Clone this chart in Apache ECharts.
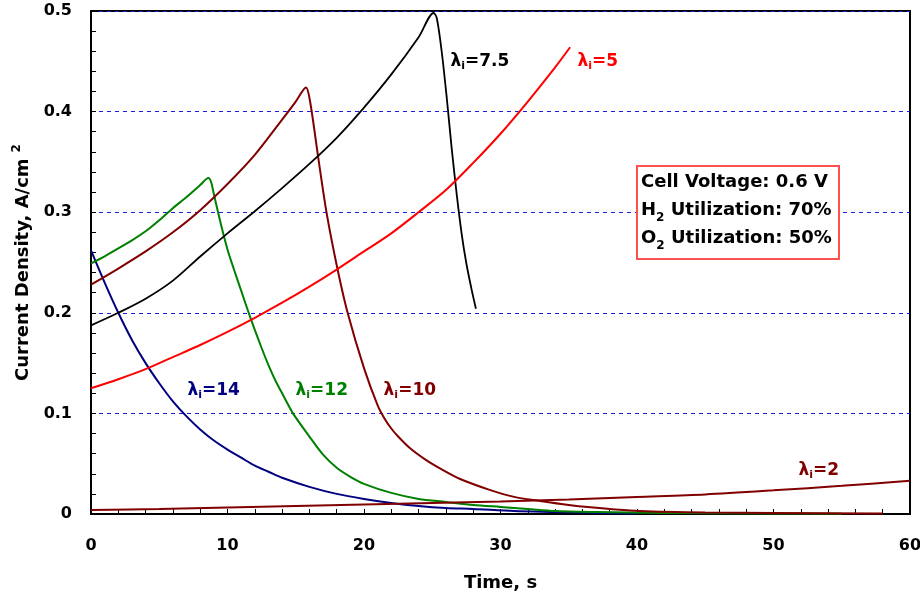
<!DOCTYPE html>
<html>
<head>
<meta charset="utf-8">
<script src="https://cdn.jsdelivr.net/npm/echarts@6/dist/echarts.min.js"></script>
<style>html,body{margin:0;padding:0;background:#fff}#c{width:920px;height:591px}</style>
</head>
<body>
<div id="c"></div>
<script>
// ---- data (time s, current density A/cm2) ----
const lambda14 = [[0,0.262],[1,0.23],[2,0.2],[3,0.173],[4,0.15],[5,0.13],[6,0.112],[7,0.097],[8,0.084],[9,0.073],[10,0.064],[11,0.056],[12,0.048],[13,0.042],[14,0.036],[16,0.027],[18,0.02],[20,0.015],[22,0.011],[24,0.008],[26,0.006],[28,0.005],[31,0.003],[34,0.002],[37,0.001],[40,0.0005]];
const lambda12 = [[0,0.249],[1,0.256],[2,0.264],[3,0.272],[4,0.281],[5,0.292],[6,0.304],[7,0.315],[8,0.327],[8.6,0.334],[8.8,0.33],[9,0.318],[9.5,0.289],[10,0.263],[10.5,0.242],[11,0.222],[11.5,0.202],[12,0.183],[12.5,0.165],[13,0.148],[13.5,0.133],[14,0.12],[14.8,0.1],[16,0.077],[17,0.059],[18,0.046],[19,0.037],[20,0.03],[22,0.021],[24,0.015],[26,0.012],[28,0.009],[30,0.007],[32,0.005],[34,0.003],[37,0.002],[42,0.001],[50,0.0005],[55,0.0003]];
const lambda10 = [[0,0.228],[2,0.244],[4,0.261],[6,0.28],[8,0.302],[10,0.328],[12,0.357],[14,0.392],[15,0.41],[15.75,0.424],[16.05,0.41],[16.65,0.354],[17.25,0.3],[18.05,0.244],[18.8,0.2],[20,0.145],[21,0.108],[21.5,0.095],[22,0.085],[22.5,0.077],[23.4,0.065],[24.5,0.054],[25.6,0.045],[27,0.035],[29.2,0.024],[31,0.017],[32.9,0.013],[35,0.009],[36.6,0.0066],[38,0.005],[40.2,0.003],[45,0.0015],[50,0.001],[58,0.0005]];
const lambda75 = [[0,0.1875],[2,0.2],[4,0.214],[6,0.232],[8,0.256],[10,0.279],[12,0.301],[14,0.324],[16,0.348],[18,0.374],[20,0.404],[22,0.437],[24,0.474],[25.1,0.498],[25.33,0.493],[25.69,0.46],[26.06,0.414],[26.42,0.364],[26.79,0.318],[27.16,0.278],[27.5,0.249],[27.9,0.222],[28.2,0.204]];
const lambda5 = [[0,0.125],[2,0.134],[4,0.144],[6,0.156],[8,0.168],[10,0.181],[12,0.195],[14,0.21],[16,0.226],[18,0.243],[20,0.261],[22,0.279],[24,0.3],[26,0.322],[28,0.349],[30,0.378],[32,0.41],[34,0.444],[35.1,0.464]];
const lambda2 = [[0,0.004],[5,0.005],[10,0.0065],[15,0.008],[20,0.0095],[25,0.011],[30,0.0125],[35,0.0145],[40,0.017],[45,0.0195],[50,0.0235],[55,0.028],[60,0.033]];
const seriesNames = ['14','12','10','7.5','5','2'];
const labelAnchors = [[7.03,0.123],[14.95,0.123],[21.4,0.123],[26.3,0.45],[35.6,0.45],[51.8,0.043]];
const xTicks = {min:0, max:60, interval:10};
const yTicks = {min:0, max:0.5, interval:0.1};

const FONT = 'DejaVu Sans';
const colors = ['#000080','#008000','#800000','#000000','#ff0000','#800000'];
const datasets = [lambda14, lambda12, lambda10, lambda75, lambda5, lambda2];

function lamLabel(name, color){
  return {
    show:true, position:'right', distance:0,
    formatter:'{l|λ}{s|i}{l|=' + name + '}',
    rich:{
      l:{fontFamily:FONT, fontWeight:'bold', fontSize:17, lineHeight:20, color:color},
      s:{fontFamily:FONT, fontWeight:'bold', fontSize:11, lineHeight:11, verticalAlign:'bottom', color:color}
    }
  };
}

const series = datasets.map((d,i)=>({
  type:'line', name:'λi=' + seriesNames[i], data:d, showSymbol:false, smooth:0.3,
  lineStyle:{color:colors[i], width:(i===3?1.8:2)}, itemStyle:{color:colors[i]},
  z: 3, animation:false,
  markPoint:{
    symbol:'circle', symbolSize:1, itemStyle:{color:'rgba(0,0,0,0)'}, animation:false,
    data:[{coord:labelAnchors[i]}],
    label:lamLabel(seriesNames[i], colors[i])
  }
}));

const chart = echarts.init(document.getElementById('c'), null, {renderer:'canvas'});
chart.setOption({
  backgroundColor:'#fff',
  animation:false,
  grid:{left:91, right:10, top:11, bottom:77, containLabel:false, outerBoundsMode:'none',
        show:true, borderColor:'#000', borderWidth:2, backgroundColor:'transparent'},
  xAxis:{
    type:'value', min:xTicks.min, max:xTicks.max, interval:xTicks.interval,
    name:'Time, s', nameLocation:'middle', nameGap:60,
    nameTextStyle:{fontFamily:FONT, fontWeight:'bold', fontSize:18, color:'#000'},
    axisLine:{show:true, lineStyle:{color:'#000', width:2}},
    axisTick:{show:true, inside:true, length:5, lineStyle:{color:'#000', width:1}},
    minorTick:{show:true, splitNumber:5, length:5, lineStyle:{color:'#000', width:1}},
    splitLine:{show:false},
    axisLabel:{margin:24, fontFamily:FONT, fontWeight:'bold', fontSize:16, color:'#000'}
  },
  yAxis:{
    type:'value', min:yTicks.min, max:yTicks.max, interval:yTicks.interval,
    name:'{a|Current Density, A/cm}{p|2}', nameLocation:'middle', nameGap:56, nameRotate:90,
    nameTextStyle:{rich:{
      a:{fontFamily:FONT, fontWeight:'bold', fontSize:18, lineHeight:24, color:'#000'},
      p:{fontFamily:FONT, fontWeight:'bold', fontSize:12, lineHeight:12, verticalAlign:'top', color:'#000', padding:[0,0,0,6]}
    }},
    axisLine:{show:true, lineStyle:{color:'#000', width:2}},
    axisTick:{show:true, inside:true, length:5, lineStyle:{color:'#000', width:1}},
    minorTick:{show:true, splitNumber:5, length:5, lineStyle:{color:'#000', width:1}},
    splitLine:{show:true, lineStyle:{color:'#1a1ae6', width:1, type:[4,4]}},
    axisLabel:{margin:19, fontFamily:FONT, fontWeight:'bold', fontSize:16, color:'#000'}
  },
  series:series,
  graphic:[
    {type:'rect', left:636, top:165, z:100, shape:{width:202, height:93}, style:{fill:'#fff', stroke:'#ff5050', lineWidth:2}},
    {type:'text', left:641, top:173, z:101, style:{
      text:'{a|Cell Voltage: 0.6 V}\n{a|H}{s|2}{a| Utilization: 70%}\n{a|O}{s|2}{a| Utilization: 50%}',
      rich:{
        a:{fontFamily:FONT, fontWeight:'bold', fontSize:18, lineHeight:28, fill:'#000'},
        s:{fontFamily:FONT, fontWeight:'bold', fontSize:12, lineHeight:12, verticalAlign:'bottom', fill:'#000'}
      }
    }}
  ]
});
</script>
</body>
</html>
